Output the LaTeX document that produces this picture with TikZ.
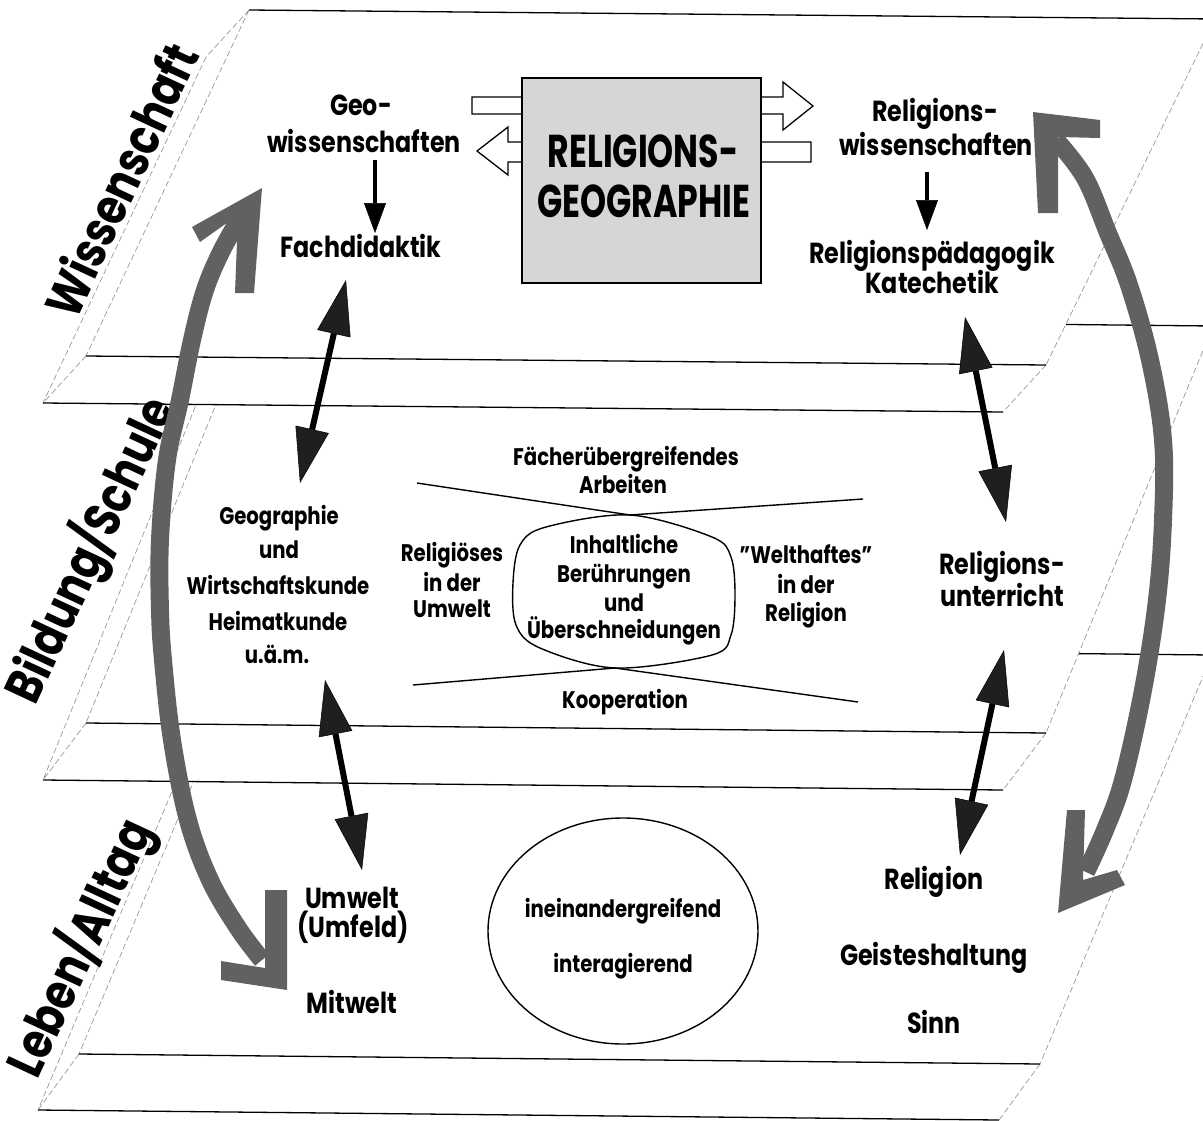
\documentclass[tikz,border=0pt]{standalone}
\usepackage{fontspec}
\setmainfont{Poppins}[FakeStretch=0.82]
\newfontfamily\boxfont{Poppins}[FakeStretch=0.72]
\usetikzlibrary{arrows.meta,shapes.geometric}
\begin{document}
\begin{tikzpicture}[x=1pt,y=-1pt,
  edge/.style={black,line width=1.3pt},
  faint/.style={black!40,line width=0.7pt,dash pattern=on 6pt off 3pt},
  lbl/.style={inner sep=0pt,anchor=base,font=\bfseries\fontsize{29}{34}\selectfont},
  sm/.style={inner sep=0pt,anchor=base,font=\bfseries\fontsize{24}{28}\selectfont},
  boxtxt/.style={inner sep=0pt,anchor=base,font=\boxfont\bfseries\fontsize{46}{50}\selectfont},
  side/.style={inner sep=0pt,rotate=65,font=\bfseries\fontsize{51}{56}\selectfont},
  dbl/.style={line width=6pt,{Triangle[length=55pt,width=34pt,line width=0.5pt,fill=black!88]}-{Triangle[length=55pt,width=34pt,line width=0.5pt,fill=black!88]}},
  small/.style={line width=4pt,-{Triangle[length=30pt,width=22pt,line width=0.5pt]}},
  grayarc/.style={black!62,line width=18pt},
  chev/.style={fill=black!62},
  blockarrow/.style={draw=black,fill=white,line width=1.3pt},
  thinline/.style={black,line width=1.4pt}
]
\useasboundingbox (0,0) rectangle (1203,1120);
\fill[white] (0,0) rectangle (1203,1120);

% ---- slab Leben/Alltag
\fill[white] (210,701) -- (251,645) -- (1212,655) -- (1040,1064) -- (999,1120) -- (38,1110) -- cycle;
\draw[faint] (251,645) -- (79,1054) (210,701) -- (38,1110) (1212,655) -- (1040,1064)
  (79,1054) -- (38,1110) (1040,1064) -- (999,1120) (251,645) -- (210,701);
\draw[edge] (251,645) -- (1212,655) (79,1054) -- (1040,1064) (38,1110) -- (999,1120);

% ---- slab Bildung/Schule
\fill[white] (209,373) -- (252,316) -- (1213,326) -- (1046,733) -- (1003,790) -- (43,780) -- cycle;
\draw[faint] (252,316) -- (86,723) (209,373) -- (43,780) (1213,326) -- (1046,733)
  (86,723) -- (43,780) (1046,733) -- (1003,790) (252,316) -- (209,373);
\draw[edge] (252,316) -- (1213,326) (86,723) -- (1046,733) (43,780) -- (1003,790);

% ---- slab Wissenschaft
\fill[white] (206,57) -- (249,10) -- (1215,19) -- (1046,365) -- (1003,412) -- (43,403) -- cycle;
\draw[faint] (249,10) -- (86,356) (206,57) -- (43,403) (1215,19) -- (1046,365)
  (86,356) -- (43,403) (1046,365) -- (1003,412) (249,10) -- (206,57);
\draw[edge] (249,10) -- (1215,19) (86,356) -- (1046,365) (43,403) -- (1003,412);

% ---- side labels
\node[side] (sW) at (120,180) {Wissenschaft};
\node[side] (sB) at (90,550) {Bildung/Schule};
\node[side] (sL) at (80,948) {Leben/Alltag};

% ---- big grey arcs with chevron heads
\draw[grayarc] plot[smooth,tension=0.6] coordinates {(243,213) (222,250) (205,290) (192,340) (180,400) (167,460) (160,540) (160,610) (163,660) (172,740) (188,820) (210,880) (238,928) (262,960)};
\fill[chev] (262,188) -- (254,293) -- (235,293) -- (238,215) -- (200,242) -- (192,227) -- cycle;
\fill[chev] (265,890) -- (287,890) -- (287,990) -- (221,980) -- (221,961) -- (265,968) -- cycle;

\draw[grayarc] plot[smooth,tension=0.6] coordinates {(1056,140) (1085,178) (1108,233) (1129,285) (1150,360) (1163,440) (1163,520) (1157,600) (1143,690) (1123,780) (1105,830) (1086,872)};
\fill[chev] (1033,112) -- (1100,120) -- (1100,138) -- (1058,137) -- (1058,213) -- (1038,213) -- cycle;
\fill[chev] (1067,810) -- (1058,913) -- (1125,885) -- (1117,870) -- (1083,880) -- (1085,810) -- cycle;

% ---- white block arrows around the central box
\draw[blockarrow] (472,97) -- (783,97) -- (783,82) -- (813,106) -- (783,130) -- (783,114) -- (472,114) -- cycle;
\draw[blockarrow] (811,142) -- (508,142) -- (508,127) -- (477,151) -- (508,175) -- (508,162) -- (811,162) -- cycle;

% ---- central box
\node[draw=black,line width=2.5pt,fill=black!16,minimum width=239pt,minimum height=205pt,inner sep=0pt] (rgbox) at (641.5,180.5) {};
\node[boxtxt] (rg1) at (643,167) {RELIGIONS-};
\node[boxtxt] (rg2) at (644,217) {GEOGRAPHIE};

% ---- Wissenschaft level texts
\node[lbl] (geoA) at (361,115) {Geo-};
\node[lbl] (geoB) at (364,152) {wissenschaften};
\node[lbl] (fach) at (361,257) {Fachdidaktik};
\node[lbl] (relA) at (935,121) {Religions-};
\node[lbl] (relB) at (936,155) {wissenschaften};
\node[lbl] (relpaed) at (932,263) {Religionspädagogik};
\node[lbl] (katech) at (932,293) {Katechetik};

\coordinate (s1a) at (375,160);
\coordinate (s1b) at (375,233);
\coordinate (s2a) at (927,172);
\coordinate (s2b) at (927,230);
\draw[small] (s1a) -- (s1b);
\draw[small] (s2a) -- (s2b);

% ---- Bildung level texts
\node[sm] (g1) at (279,524) {Geographie};
\node[sm] (g2) at (279,558) {und};
\node[sm] (g3) at (278,594) {Wirtschaftskunde};
\node[sm] (g4) at (278,630) {Heimatkunde};
\node[sm] (g5) at (277,663) {u.ä.m.};

\node[sm] (r1) at (452,561) {Religiöses};
\node[sm] (r2) at (452,591) {in der};
\node[sm] (r3) at (452,617) {Umwelt};

\node[sm] (f1) at (626,465) {Fächerübergreifendes};
\node[sm] (f2) at (623,493) {Arbeiten};
\node[sm] (koop) at (625,708) {Kooperation};

\draw[thinline] plot[smooth cycle,tension=0.55] coordinates {(630,515) (546,527) (520,545) (513,583) (516,625) (540,648) (615,668) (712,655) (731,635) (735,595) (731,557) (712,537)};
\draw[thinline] (417,483) -- (630,515) -- (863,499);
\draw[thinline] (413,685) -- (615,668) -- (858,702);

\node[sm] (i1) at (624,553) {Inhaltliche};
\node[sm] (i2) at (624,582) {Berührungen};
\node[sm] (i3) at (624,611) {und};
\node[sm] (i4) at (624,638) {Überschneidungen};

\node[sm] (w1) at (806,563) {\symbol{"22}Welthaftes\symbol{"22}};
\node[sm] (w2) at (806,593) {in der};
\node[sm] (w3) at (806,621) {Religion};

\node[lbl] (ru1) at (1002,574) {Religions-};
\node[lbl] (ru2) at (1002,606) {unterricht};

% ---- Leben level texts
\node[lbl] (um1) at (352,908) {Umwelt};
\node[lbl] (um2) at (353,937) {(Umfeld)};
\node[lbl] (mit) at (352,1013) {Mitwelt};

\node[draw=black,line width=1.4pt,ellipse,minimum width=270pt,minimum height=226pt,inner sep=0pt] (ell) at (623,931) {};
\node[sm] (ii1) at (623,917) {ineinandergreifend};
\node[sm] (ii2) at (623,972) {interagierend};

\node[lbl] (rl1) at (934,889) {Religion};
\node[lbl] (rl2) at (934,965) {Geisteshaltung};
\node[lbl] (rl3) at (934,1033) {Sinn};

% ---- black double arrows
\coordinate (d1a) at (346,280);
\coordinate (d1b) at (300,483);
\coordinate (d2a) at (325,680);
\coordinate (d2b) at (362,870);
\coordinate (d3a) at (965,317);
\coordinate (d3b) at (1006,522);
\coordinate (d4a) at (1004,650);
\coordinate (d4b) at (960,855);
\draw[dbl] (d1a) -- (d1b);
\draw[dbl] (d2a) -- (d2b);
\draw[dbl] (d3a) -- (d3b);
\draw[dbl] (d4a) -- (d4b);
\end{tikzpicture}
\end{document}
